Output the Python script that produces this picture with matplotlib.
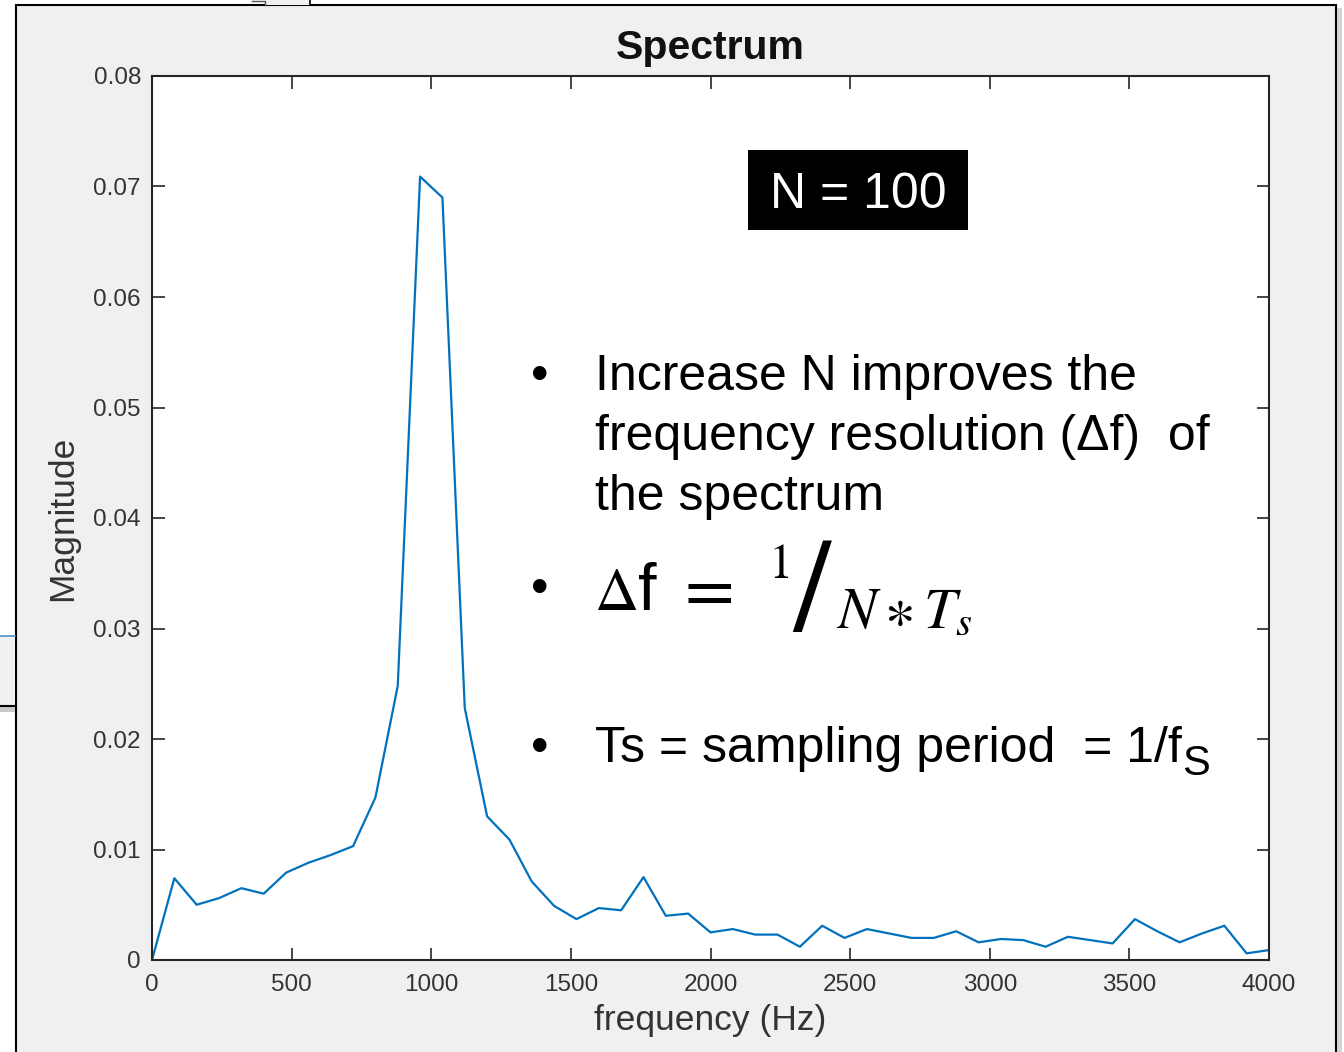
import numpy as np
import matplotlib
matplotlib.use('Agg')
import matplotlib.pyplot as plt
from matplotlib.patches import Rectangle
from matplotlib.lines import Line2D

# spectrum bins (fs = 8000 Hz, N = 100 -> 80 Hz per bin)
fs = 8000
n_fft = 100
magnitude = [
    0.0, 0.0074, 0.0050, 0.0056, 0.0065, 0.0060, 0.0079, 0.0088, 0.0095, 0.0103,
    0.0147, 0.0248, 0.0709, 0.0690, 0.0228, 0.0130, 0.0109, 0.0071, 0.0049, 0.0037,
    0.0047, 0.0045, 0.0075, 0.0040, 0.0042, 0.0025, 0.0028, 0.0023, 0.0023, 0.0012,
    0.0031, 0.0020, 0.0028, 0.0024, 0.0020, 0.0020, 0.0026, 0.0016, 0.0019, 0.0018,
    0.0012, 0.0021, 0.0018, 0.0015, 0.0037, 0.0026, 0.0016, 0.0024, 0.0031, 0.0006,
    0.0009,
]
freq = np.arange(len(magnitude)) * fs / n_fft

x_ticks = [0, 500, 1000, 1500, 2000, 2500, 3000, 3500, 4000]
y_ticks = [0, 0.01, 0.02, 0.03, 0.04, 0.05, 0.06, 0.07, 0.08]
y_tick_labels = ['0', '0.01', '0.02', '0.03', '0.04', '0.05', '0.06', '0.07', '0.08']

W, H = 1344, 1052


def fx(x):
    return x / W


def fy(y):
    return 1 - y / H


plt.rcParams['font.family'] = ['Liberation Sans', 'DejaVu Sans']
plt.rcParams['mathtext.fontset'] = 'custom'
plt.rcParams['mathtext.rm'] = 'Liberation Sans'
plt.rcParams['mathtext.it'] = 'Liberation Sans:italic'
plt.rcParams['mathtext.bf'] = 'Liberation Sans:bold'

fig = plt.figure(figsize=(W / 100, H / 100), dpi=100)
fig.patch.set_facecolor('white')
renderer = fig.canvas.get_renderer()

# window frame behind the plot
fig.patches.append(Rectangle((fx(16), fy(1070)), fx(1336) - fx(16), fy(5) - fy(1070),
                             transform=fig.transFigure, facecolor='#f0f0f0',
                             edgecolor='black', lw=1.5, zorder=-2))
fig.patches.append(Rectangle((fx(1337), fy(1070)), fx(5), fy(8) - fy(1070),
                             transform=fig.transFigure, facecolor='#d4d4d4',
                             edgecolor='none', zorder=-2))
# bits of other windows
fig.patches.append(Rectangle((fx(265), fy(5)), fx(45), fy(0) - fy(5),
                             transform=fig.transFigure, facecolor='#f0f0f0',
                             edgecolor='none', zorder=-2))
fig.lines.append(Line2D([fx(310), fx(310)], [fy(0), fy(5)], transform=fig.transFigure,
                        color='black', lw=1.2, zorder=-1))
fig.lines.append(Line2D([fx(252), fx(265), fx(265)], [fy(1), fy(1), fy(5)],
                        transform=fig.transFigure, color='#555555', lw=1, zorder=-1))
fig.patches.append(Rectangle((fx(0), fy(705)), fx(15), fy(636) - fy(705),
                             transform=fig.transFigure, facecolor='#f0f0f0',
                             edgecolor='none', zorder=-2))
fig.patches.append(Rectangle((fx(0), fy(712)), fx(15), fy(706) - fy(712),
                             transform=fig.transFigure, facecolor='#c8c8c8',
                             edgecolor='none', zorder=-2))
fig.lines.append(Line2D([fx(0), fx(15)], [fy(636), fy(636)], transform=fig.transFigure,
                        color='#4a90c8', lw=1.2, zorder=-1))
fig.lines.append(Line2D([fx(0), fx(15)], [fy(705.5), fy(705.5)], transform=fig.transFigure,
                        color='black', lw=1.5, zorder=-1))

ax = fig.add_axes([fx(152), fy(960), fx(1269) - fx(152), fy(76) - fy(960)])
ax.set_facecolor('white')
ax.plot(freq, magnitude, color='#0072BD', lw=1.6)

ax.set_xlim(0, 4000)
ax.set_ylim(0, 0.08)
ax.set_xticks(x_ticks)
ax.set_xticklabels([str(t) for t in x_ticks])
ax.set_yticks(y_ticks)
ax.set_yticklabels(y_tick_labels)
ax.tick_params(direction='in', length=9, width=1.2, top=True, right=True,
               labelsize=17.5, labelcolor='#333333', color='#262626')
ax.tick_params(axis='x', pad=10)
ax.tick_params(axis='y', pad=8)
for s in ax.spines.values():
    s.set_color('#262626')
    s.set_linewidth(1.5)

ax.set_title('Spectrum', fontsize=29.5, fontweight='bold', color='#111111', pad=12)
ax.set_xlabel('frequency (Hz)', fontsize=25.5, color='#333333', labelpad=6)
ax.set_ylabel('Magnitude', fontsize=25.5, color='#333333', labelpad=10)

# N = 100 label
fig.patches.append(Rectangle((fx(748), fy(230)), fx(968) - fx(748), fy(150) - fy(230),
                             transform=fig.transFigure, facecolor='black',
                             edgecolor='none', zorder=5))
fig.text(fx(858), fy(208), 'N = 100', fontsize=36, color='white', ha='center',
         va='baseline', zorder=6)

# bullet notes
fig.text(fx(531), fy(390), '\u2022', fontsize=36, va='baseline')
fig.text(fx(595), fy(390), 'Increase N improves the', fontsize=36, va='baseline')
fig.text(fx(595), fy(450), 'frequency resolution (\u0394f)  of', fontsize=36, va='baseline')
fig.text(fx(595), fy(510), 'the spectrum', fontsize=36, va='baseline')

fig.text(fx(531), fy(603), '\u2022', fontsize=36, va='baseline')
delta = fig.text(fx(594), fy(610), r'$\Delta$', fontsize=44, math_fontfamily='stix',
                 va='baseline')
d_box = delta.get_window_extent(renderer)
fig.text(d_box.x1 / W + fx(1), fy(610), 'f', fontsize=48, va='baseline')
fig.text(fx(674), fy(610), r'$=$', fontsize=52, math_fontfamily='stix', va='baseline')
fig.text(fx(768), fy(578), r'$1$', fontsize=35, math_fontfamily='stix', va='baseline')
fig.text(fx(792), fy(630), r'$/$', fontsize=95, math_fontfamily='stix', va='baseline')
fig.text(fx(836), fy(628), r'$N\ast T_s$', fontsize=42, math_fontfamily='stix',
         va='baseline')

fig.text(fx(531), fy(762), '\u2022', fontsize=36, va='baseline')
ts_line = fig.text(fx(595), fy(762), 'Ts = sampling period  = 1/f', fontsize=36,
                   va='baseline')
ts_box = ts_line.get_window_extent(renderer)
fig.text(ts_box.x1 / W, fy(775), 'S', fontsize=30, va='baseline')

fig.savefig('out.png', dpi=100)
